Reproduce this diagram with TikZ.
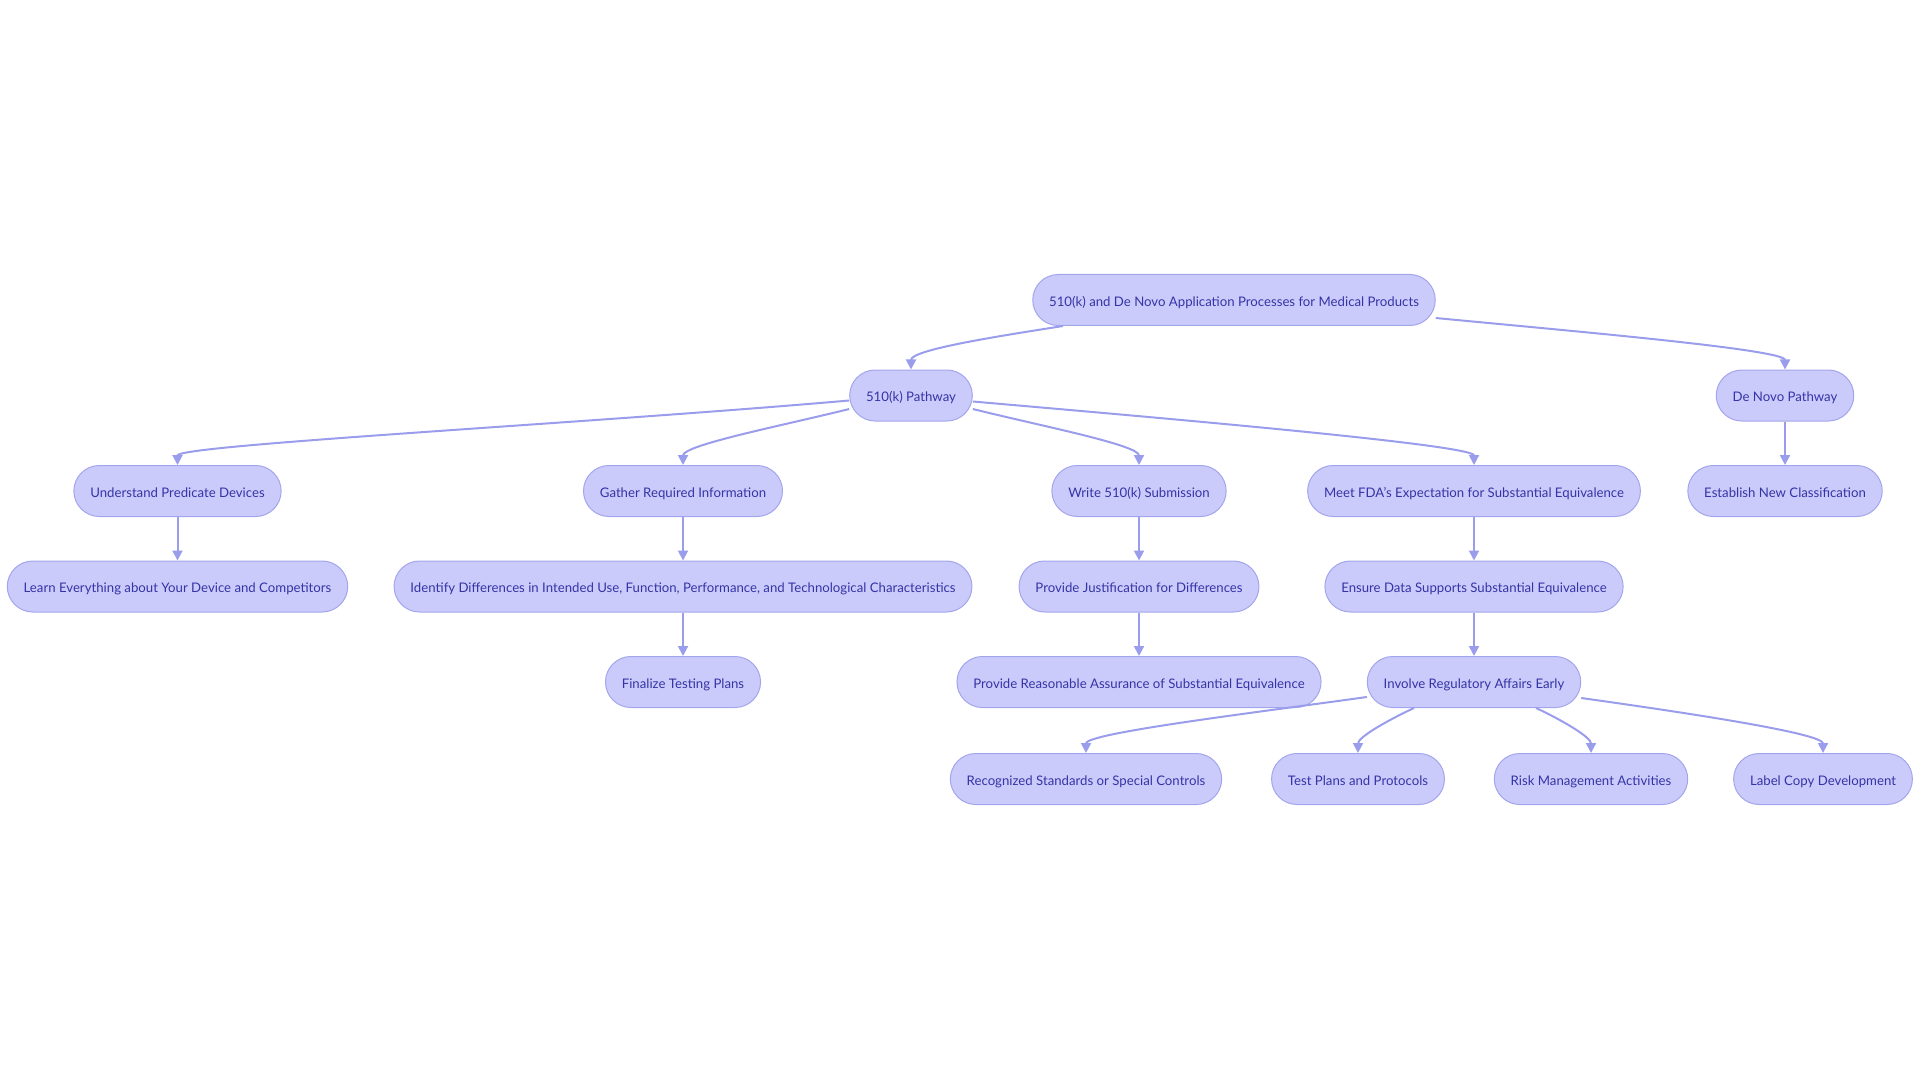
\documentclass[tikz,border=0pt]{standalone}
\usepackage{fontspec}
\setmainfont{Lato}
\usepackage{tikz}
\usetikzlibrary{arrows.meta, positioning}
\definecolor{pillfill}{HTML}{CBCBFB}
\definecolor{pilledge}{HTML}{A3A5EC}
\definecolor{pilltext}{HTML}{3434A6}
\definecolor{linkcol}{HTML}{9A9DEB}

\begin{document}
\begin{tikzpicture}[
    x=0.5pt, y=0.5pt,
    node distance=21.75pt,
    every node/.style={font=\fontsize{6.6}{7.8}\selectfont},
    pill/.style={rectangle, rounded corners=12.75pt, draw=pilledge, fill=pillfill,
                 text=pilltext, minimum height=25.5pt, inner xsep=8.2pt, inner ysep=2pt,
                 text height=1.55ex, text depth=0.35ex, line width=0.5pt},
    arrow/.style={-{Triangle[length=5pt, width=5pt]}, line width=1pt, draw=linkcol},
]
\useasboundingbox (0,0) rectangle (1920,-1080);

\node[pill] (root) at (1234,-300) {510(k) and De Novo Application Processes for Medical Products};
\node[pill] (p510) at (911,-395.5) {510(k) Pathway};
\node[pill] (novo) at (1785,-395.5) {De Novo Pathway};
\node[pill] (und) at (177.5,-491) {Understand Predicate Devices};
\node[pill] (gath) at (683,-491) {Gather Required Information};
\node[pill] (write) at (1139,-491) {Write 510(k) Submission};
\node[pill] (meet) at (1474,-491) {Meet FDA's Expectation for Substantial Equivalence};
\node[pill, below=of novo] (estab) {Establish New Classification};
\node[pill, below=of und] (learn) {Learn Everything about Your Device and Competitors};
\node[pill, below=of gath] (ident) {Identify Differences in Intended Use, Function, Performance, and Technological Characteristics};
\node[pill, below=of ident] (final) {Finalize Testing Plans};
\node[pill, below=of write] (just) {Provide Justification for Differences};
\node[pill, below=of just] (assur) {Provide Reasonable Assurance of Substantial Equivalence};
\node[pill, below=of meet] (ens) {Ensure Data Supports Substantial Equivalence};
\node[pill, below=of ens] (inv) {Involve Regulatory Affairs Early};
\node[pill] (rec) at (1086,-779) {Recognized Standards or Special Controls};
\node[pill] (test) at (1358,-779) {Test Plans and Protocols};
\node[pill] (risk) at (1591,-779) {Risk Management Activities};
\node[pill] (lab) at (1823,-779) {Label Copy Development};

\draw[arrow] ([xshift=-85.5pt]root.south) to[out=189, in=90, in distance=10pt] (p510.north);
\draw[arrow] ([yshift=-9pt]root.east) to[out=-5.5, in=90, in distance=10pt] (novo.north);
\draw[arrow] ([yshift=-2.5pt]p510.west) to[out=185, in=90, in distance=10pt] (und.north);
\draw[arrow] ([yshift=-6.75pt]p510.west) to[out=194, in=90, in distance=10pt] (gath.north);
\draw[arrow] ([yshift=-6.75pt]p510.east) to[out=-14, in=90, in distance=10pt] (write.north);
\draw[arrow] ([yshift=-3pt]p510.east) to[out=-5, in=90, in distance=10pt] (meet.north);
\draw[arrow] (novo) -- (estab);
\draw[arrow] (und) -- (learn);
\draw[arrow] (gath) -- (ident);
\draw[arrow] (ident) -- (final);
\draw[arrow] (write) -- (just);
\draw[arrow] (just) -- (assur);
\draw[arrow] (meet) -- (ens);
\draw[arrow] (ens) -- (inv);
\draw[arrow] ([yshift=-7.5pt]inv.west) to[out=188, in=90, in distance=10pt] (rec.north);
\draw[arrow] ([xshift=-30pt]inv.south) to[out=205, in=90, in distance=8pt] (test.north);
\draw[arrow] ([xshift=31pt]inv.south) to[out=-25, in=90, in distance=8pt] (risk.north);
\draw[arrow] ([yshift=-8pt]inv.east) to[out=-8, in=90, in distance=10pt] (lab.north);
\end{tikzpicture}
\end{document}
